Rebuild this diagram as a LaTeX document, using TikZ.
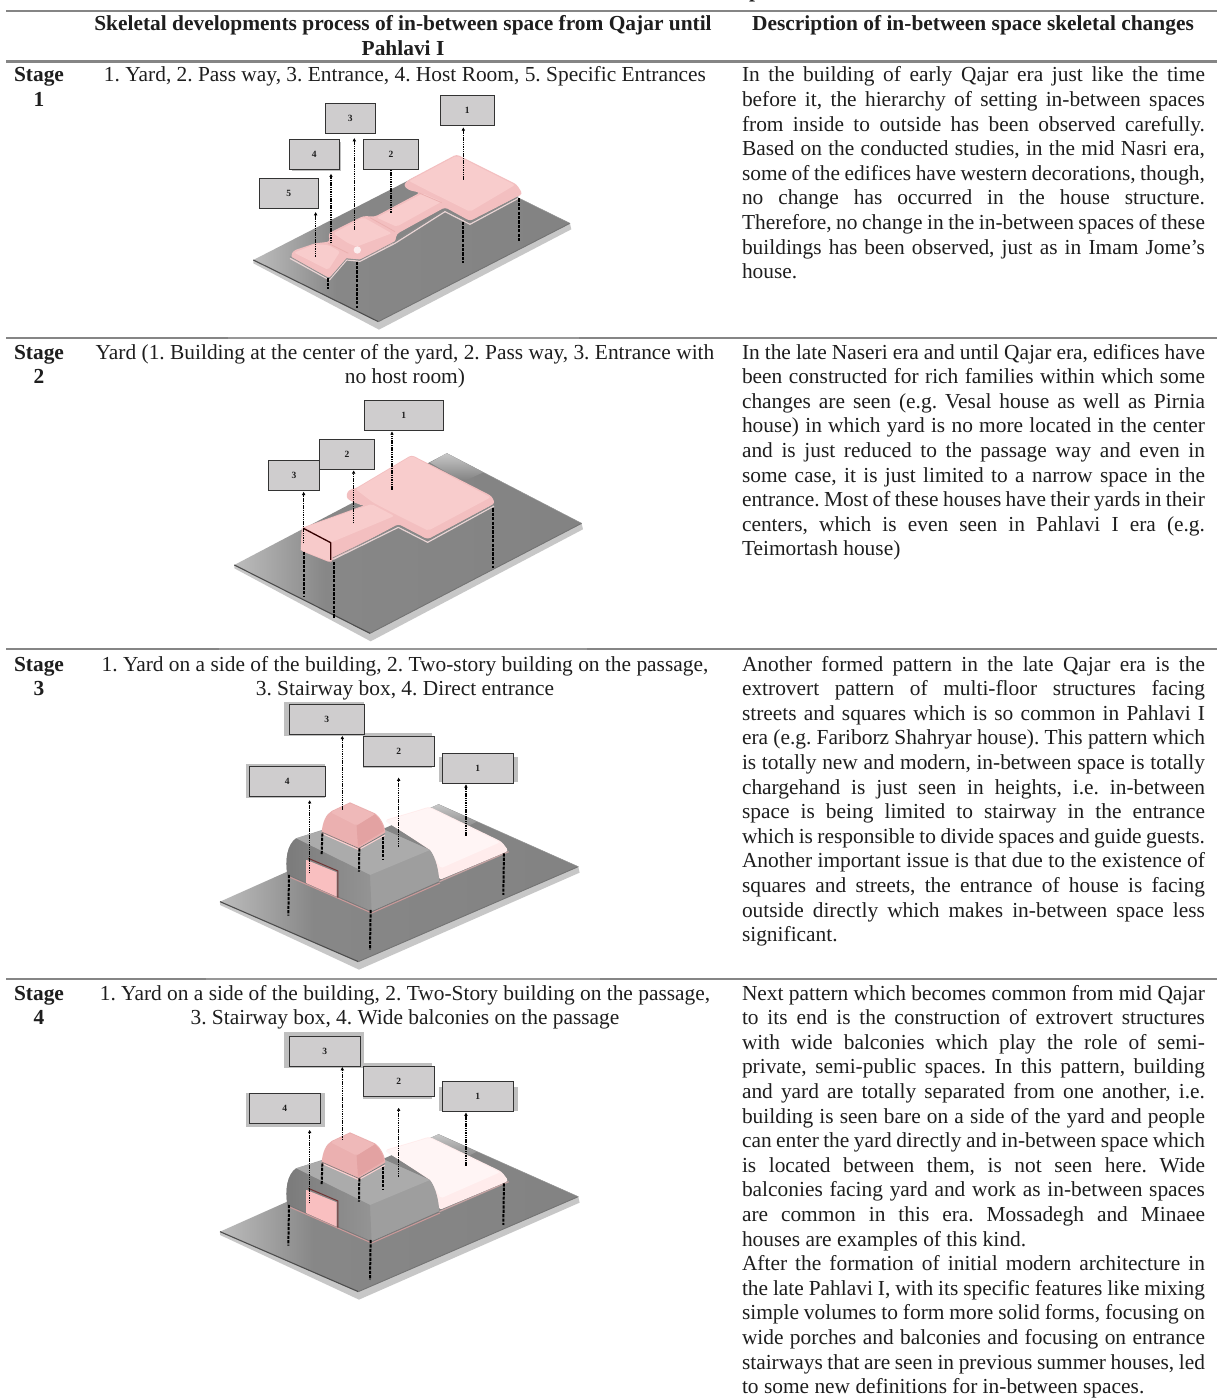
\documentclass[tikz,border=0pt]{standalone}
\usepackage{fontspec}
\setmainfont{Liberation Serif}
\usetikzlibrary{arrows.meta}
\hfuzz=30pt
\hbadness=10000
\frenchspacing
\definecolor{txt}{HTML}{1E1E1E}
\definecolor{rulec}{HTML}{858585}
\definecolor{pinkbase}{HTML}{F3BFC0}
\definecolor{pinktop}{HTML}{F8CCCC}
\definecolor{pinkdark}{HTML}{EBB0B0}
\definecolor{domeright}{HTML}{E3A2A2}
\definecolor{dometop}{HTML}{EFB9B9}
\definecolor{doorc}{HTML}{F9BFC0}
\definecolor{rimc}{HTML}{E9D4D4}
\definecolor{boxfill}{HTML}{CFCDCE}
\definecolor{haloc}{HTML}{BFBFBF}
\pgfdeclarehorizontalshading{plateS}{100bp}{color(0bp)=(black!26); color(25bp)=(black!26); color(38bp)=(black!47); color(100bp)=(black!50)}
\tikzset{
  cell/.style={anchor=base west,inner sep=0pt,outer sep=0pt,text=txt,font=\fontsize{21.4}{24.6}\selectfont},
  ccell/.style={anchor=base,inner sep=0pt,outer sep=0pt,text=txt,font=\fontsize{21.4}{24.6}\selectfont},
  rulethick/.style={draw=rulec,line width=2.1pt},
  rulethin/.style={draw=rulec!85,line width=1.2pt},
  lblbox/.style={draw=black!80,line width=0.8pt,fill=boxfill,inner sep=0pt,text=txt,font=\fontsize{9.5}{11}\selectfont\bfseries},
  halo/.style={fill=haloc},
  arrowln/.style={draw=black,line width=1.3pt,dash pattern=on 1.5pt off 0.8pt,-{Latex[length=3.4pt,width=3.8pt]}},
  plainln/.style={draw=black,line width=1.3pt,dash pattern=on 1.5pt off 0.8pt},
  postln/.style={draw=black,line width=2pt,dash pattern=on 3.2pt off 1.2pt},
  rimln/.style={draw=rimc,line width=1.2pt,line join=round},
  darkrim/.style={draw=black!45,line width=0.6pt,line join=round},
  pinkface/.style={fill=pinktop,rounded corners=2pt},
  pinkbody/.style={fill=pinkbase,rounded corners=3pt},
}
\newcommand{\jl}[1]{\hbox to 463pt{\spaceskip=0.25em plus 0.5em minus 0.1em #1}}
\newcommand{\lastl}[1]{\hbox{#1}}
\newcommand{\mkbox}[6]{\node[lblbox,minimum width={(#4-#2)*0.3333pt},minimum height={(#5-#3)*0.3333pt}] (#1) at ({(#2+#4)/2},{(#3+#5)/2}) {#6};}
\newcommand{\plate}[8]{%
  \fill[black!22] (#1,#2) -- (#7,#8) -- (#5,#6) -- (#5+4,#6+18) -- (#7+2,#8+24) -- (#1,#2+10) -- cycle;
  \path[shading=plateS] (#1,#2) -- (#3,#4) -- (#5,#6) -- (#7,#8) -- cycle;
  \draw[black!70,line width=1.1pt] (#1,#2) -- (#7,#8);
  \draw[black!55,line width=0.9pt] (#7,#8) -- (#5,#6);
  \draw[black!42,line width=0.5pt] (#3,#4) -- (#5,#6);
}
\newcommand{\housebody}{%
  \plate{60}{620}{715}{328}{1135}{515}{475}{800}
  \path[top color=black!22,bottom color=black!50] (665,352) -- (715,328) -- (830,380) -- (775,410) -- cycle;
  % pale room
  \fill[fill=pink!30!white,rounded corners=3pt] (555,375) -- (640,350) -- (688,335) -- (905,440) -- (926,468) -- (718,555) -- (700,480) -- (690,465) -- cycle;
  \fill[fill=red!4!white,rounded corners=2pt] (555,378) -- (688,338) -- (900,442) -- (722,520) -- (690,462) -- cycle;
  \draw[rimln,draw=pink!70!black!75] (718,560) -- (926,470);
  % grey volume
  \fill[black!38] (262,540) .. controls (255,490) and (262,450) .. (288,430) -- (372,403) -- (555,405) -- (690,465) .. controls (708,490) and (716,525) .. (718,560) -- (515,650) -- cycle;
  \fill[black!33] (288,430) -- (372,405) -- (555,405) -- (690,465) -- (510,540) -- cycle;
  \path[left color=black!52,right color=black!42] (262,540) .. controls (255,490) and (262,450) .. (288,430) -- (510,540) -- (515,650) -- cycle;
  \draw[draw=pink!80!black,line width=1pt,line join=round] (264,544) -- (515,654) -- (720,564);
  \draw[black!55,line width=0.5pt,line join=round] (264,540) -- (515,650) -- (718,560);
  % stairway box
  \fill[fill=pinkdark] (365,412) .. controls (368,380) and (378,358) .. (395,348) -- (450,322) -- (525,355) .. controls (545,370) and (555,395) .. (556,412) -- (475,462) -- cycle;
  \fill[fill=dometop,rounded corners=2pt] (392,352) -- (450,325) -- (525,358) -- (470,392) -- cycle;
  \fill[fill=domeright] (470,392) -- (525,358) .. controls (540,372) and (550,390) .. (552,408) -- (474,455) -- cycle;
  \draw[draw=pink!70!white,line width=1pt,line join=round] (365,415) -- (476,464) -- (555,420);
  \draw[black!55,line width=0.5pt,line join=round] (365,411) -- (476,460) -- (555,416);
  % door
  \fill[fill=doorc] (320,495) -- (410,532) -- (410,605) -- (320,565) -- cycle;
  \draw[black!70!red!80!white,line width=1pt,line join=round] (325,490) -- (414,528) -- (414,608);
  \draw[draw=pink,line width=1pt] (320,495) -- (320,565);
  % posts
  \coordinate (hpa) at (267,540); \coordinate (hpb) at (265,662);
  \coordinate (hpc) at (512,645); \coordinate (hpd) at (510,765);
  \coordinate (hpe) at (912,475); \coordinate (hpf) at (910,600);
  \coordinate (hpg) at (367,415); \coordinate (hph) at (365,480);
  \coordinate (hpi) at (478,460); \coordinate (hpj) at (477,530);
  \coordinate (hpk) at (548,425); \coordinate (hpl) at (548,495);
  \draw[postln] (hpa) -- (hpb); \draw[postln] (hpc) -- (hpd); \draw[postln] (hpe) -- (hpf);
  \draw[postln] (hpg) -- (hph); \draw[postln] (hpi) -- (hpj); \draw[postln] (hpk) -- (hpl);
}
\begin{document}
\begin{tikzpicture}[x=1pt,y=-1pt]
\useasboundingbox (0,0) rectangle (1217,1399);
\fill[white] (0,0) rectangle (1217,1399);
% ---- rules
\coordinate (ra) at (6,11);\coordinate (rb) at (1217,11);
\draw[rulethick] (ra) -- (rb);
\coordinate (rc) at (6,61.5);\coordinate (rd) at (1217,61.5);
\draw[rulethick] (rc) -- (rd);
\draw[rulethin] (6,338) -- (1217,338);
\draw[rulethick] (6,338) -- (228,338); \draw[rulethick] (579,338) -- (1217,338);
\draw[rulethin] (6,649) -- (1217,649);
\draw[rulethick] (6,649) -- (219,649); \draw[rulethick] (587,649) -- (1217,649);
\draw[rulethin] (6,979) -- (1217,979);
\draw[rulethick] (6,979) -- (206,979); \draw[rulethick] (600,979) -- (1217,979);
% ---- top fragment and header
\node[ccell,font=\fontsize{21.4}{24.6}\selectfont\bfseries] (frag) at (755,-2) {p};
\node[ccell] (h1) at (403,31) {\parbox[t]{640pt}{\centering\bfseries Skeletal developments process of in-between space from Qajar until\\Pahlavi I}};
\node[ccell] (h2) at (973,31) {\bfseries Description of in-between space skeletal changes};
% ---- stage labels
\node[ccell] (st1) at (39,82) {\parbox[t]{70pt}{\centering\bfseries Stage\\1}};
\node[ccell] (st2) at (39,359) {\parbox[t]{70pt}{\centering\bfseries Stage\\2}};
\node[ccell] (st3) at (39,671) {\parbox[t]{70pt}{\centering\bfseries Stage\\3}};
\node[ccell] (st4) at (39,1000) {\parbox[t]{70pt}{\centering\bfseries Stage\\4}};
% ---- middle captions
\node[ccell] (c1) at (405,82) {1. Yard, 2. Pass way, 3. Entrance, 4. Host Room, 5. Specific Entrances};
\node[ccell] (c2) at (405,359) {\parbox[t]{640pt}{\centering Yard (1. Building at the center of the yard, 2. Pass way, 3. Entrance with\\no host room)}};
\node[ccell] (c3) at (405,671) {\parbox[t]{640pt}{\centering 1. Yard on a side of the building, 2. Two-story building on the passage,\\3. Stairway box, 4. Direct entrance}};
\node[ccell] (c4) at (405,1000) {\parbox[t]{640pt}{\centering 1. Yard on a side of the building, 2. Two-Story building on the passage,\\3. Stairway box, 4. Wide balconies on the passage}};
% ---- right column
\node[cell] (d1) at (742,82) {\parbox[t]{463pt}{%
\jl{In the building of early Qajar era just like the time}
\jl{before it, the hierarchy of setting in-between spaces}
\jl{from inside to outside has been observed carefully.}
\jl{Based on the conducted studies, in the mid Nasri era,}
\jl{some of the edifices have western decorations, though,}
\jl{no change has occurred in the house structure.}
\jl{Therefore, no change in the in-between spaces of these}
\jl{buildings has been observed, just as in Imam Jome’s}
\lastl{house.}}};
\node[cell] (d2) at (742,359) {\parbox[t]{463pt}{%
\jl{In the late Naseri era and until Qajar era, edifices have}
\jl{been constructed for rich families within which some}
\jl{changes are seen (e.g. Vesal house as well as Pirnia}
\jl{house) in which yard is no more located in the center}
\jl{and is just reduced to the passage way and even in}
\jl{some case, it is just limited to a narrow space in the}
\jl{entrance. Most of these houses have their yards in their}
\jl{centers, which is even seen in Pahlavi I era (e.g.}
\lastl{Teimortash house)}}};
\node[cell] (d3) at (742,671) {\parbox[t]{463pt}{%
\jl{Another formed pattern in the late Qajar era is the}
\jl{extrovert pattern of multi-floor structures facing}
\jl{streets and squares which is so common in Pahlavi I}
\jl{era (e.g. Fariborz Shahryar house). This pattern which}
\jl{is totally new and modern, in-between space is totally}
\jl{chargehand is just seen in heights, i.e. in-between}
\jl{space is being limited to stairway in the entrance}
\jl{which is responsible to divide spaces and guide guests.}
\jl{Another important issue is that due to the existence of}
\jl{squares and streets, the entrance of house is facing}
\jl{outside directly which makes in-between space less}
\lastl{significant.}}};
\node[cell] (d4) at (742,1000) {\parbox[t]{463pt}{%
\jl{Next pattern which becomes common from mid Qajar}
\jl{to its end is the construction of extrovert structures}
\jl{with wide balconies which play the role of semi-}
\jl{private, semi-public spaces. In this pattern, building}
\jl{and yard are totally separated from one another, i.e.}
\jl{building is seen bare on a side of the yard and people}
\jl{can enter the yard directly and in-between space which}
\jl{is located between them, is not seen here. Wide}
\jl{balconies facing yard and work as in-between spaces}
\jl{are common in this era. Mossadegh and Minaee}
\lastl{houses are examples of this kind.}
\jl{After the formation of initial modern architecture in}
\jl{the late Pahlavi I, with its specific features like mixing}
\jl{simple volumes to form more solid forms, focusing on}
\jl{wide porches and balconies and focusing on entrance}
\jl{stairways that are seen in previous summer houses, led}
\lastl{to some new definitions for in-between spaces.}}};
% ================ Stage 1
\begin{scope}[shift={(200,90)},x=0.3333pt,y=-0.3333pt]
\plate{160}{510}{735}{215}{1110}{400}{535}{695}
\fill[pinkbody] (272,498) -- (280,482) -- (345,460) -- (390,455) -- (385,430) -- (490,378) -- (525,380) -- (660,308) -- (625,300) -- (610,285) -- (625,270) -- (770,193) -- (950,283) -- (968,312) -- (810,393) -- (735,352) -- (590,432) -- (585,458) -- (480,510) -- (460,508) -- (440,505) -- (388,565) -- (280,508) -- cycle;
\fill[pinkface] (627,273) -- (770,197) -- (945,285) -- (810,365) -- (740,330) -- (695,308) -- cycle;
\fill[pinkface] (530,383) -- (668,310) -- (725,335) -- (590,410) -- cycle;
\fill[pinkface] (400,430) -- (490,382) -- (575,430) -- (470,470) -- (445,460) -- cycle;
\fill[pinkface] (282,488) -- (345,463) -- (385,465) -- (420,485) -- (385,540) -- cycle;
\draw[pinkdark,line width=0.8pt] (510,383) -- (585,425);
\draw[pinkdark,line width=0.8pt] (385,460) -- (445,490);
\draw[pinkdark,line width=0.8pt] (655,308) -- (725,338);
\fill[white,opacity=.75] (472,480) circle (11);
\draw[rimln] (955,325) -- (810,403) -- (735,365) -- (585,460) -- (480,514) -- (440,510) -- (388,570) -- (270,505);
\draw[darkrim] (955,320) -- (810,398) -- (735,360) -- (585,455) -- (480,510) -- (440,506) -- (388,566) -- (270,500);
\mkbox{s1b1}{721}{16}{882}{107}{1}
\mkbox{s1b3}{375}{40}{527}{130}{3}
\fill[haloc] (277,157) rectangle (424,242);
\mkbox{s1b4}{267}{147}{419}{237}{4}
\mkbox{s1b2}{490}{148}{656}{239}{2}
\mkbox{s1b5}{177}{265}{355}{355}{5}
\coordinate (s1f1) at (790,270);
\coordinate (s1f2) at (573,368);
\coordinate (s1f3) at (463,420);
\coordinate (s1f4) at (393,460);
\coordinate (s1f5) at (347,500);
\draw[arrowln,shorten >=1.2pt] (s1f1) -- (s1f1 |- s1b1.south);
\draw[plainln] (s1f2) -- (s1f2 |- s1b2.south);
\draw[arrowln,shorten >=4.2pt] (s1f3) -- (s1f3 |- s1b3.south);
\draw[arrowln,shorten >=4.2pt] (s1f4) -- (s1f4 |- s1b4.south);
\draw[arrowln,shorten >=3.2pt] (s1f5) -- (s1f5 |- s1b5.south);
\coordinate (s1p1) at (383,565);\coordinate (s1q1) at (383,597);
\coordinate (s1p2) at (470,515);\coordinate (s1q2) at (470,655);
\coordinate (s1p3) at (788,395);\coordinate (s1q3) at (788,520);
\coordinate (s1p4) at (956,325);\coordinate (s1q4) at (956,455);
\draw[postln] (s1p1) -- (s1q1); \draw[postln] (s1p2) -- (s1q2);
\draw[postln] (s1p3) -- (s1q3); \draw[postln] (s1p4) -- (s1q4);
\end{scope}
% ================ Stage 2
\begin{scope}[shift={(200,410)},x=0.3333pt,y=-0.3333pt]
\plate{103}{465}{740}{130}{1145}{340}{510}{670}
\path[top color=black!22,bottom color=black!50] (690,158) -- (740,130) -- (850,187) -- (790,215) -- cycle;
\fill[pinkbody] (438,262) -- (445,240) -- (467,235) -- (635,135) -- (875,258) -- (885,280) -- (683,388) -- (595,342) -- (590,345) -- (395,450) -- (392,458) -- (302,422) -- (305,355) -- (310,352) -- (515,278) -- (490,288) -- (450,272) -- cycle;
\fill[pinkface] (467,238) -- (635,138) -- (872,262) -- (685,362) -- (585,312) -- (520,278) -- cycle;
\fill[pinkface] (315,352) -- (515,282) -- (583,318) -- (392,398) -- cycle;
\fill[pinktop!85!pinkbase] (310,355) -- (392,398) -- (392,455) -- (302,420) -- cycle;
\draw[rimln] (882,288) -- (683,397) -- (595,352) -- (400,448);
\draw[darkrim] (882,284) -- (683,392) -- (595,347) -- (398,444);
\draw[draw=black!60!red!50!black,line width=1.3pt,line join=round] (310,355) -- (392,398) -- (392,450);
\mkbox{s2b1}{492}{-29}{730}{61}{1}
\mkbox{s2b2}{358}{88}{524}{178}{2}
\mkbox{s2b3}{206}{152}{358}{242}{3}
\coordinate (s2f1) at (576,240);
\coordinate (s2f2) at (461,340);
\coordinate (s2f3) at (311,400);
\draw[arrowln,shorten >=0.6pt] (s2f1) -- (s2f1 |- s2b1.south);
\draw[arrowln,shorten >=0.6pt] (s2f2) -- (s2f2 |- s2b2.south);
\draw[arrowln,shorten >=0.6pt] (s2f3) -- (s2f3 |- s2b3.south);
\coordinate (s2p1) at (313,425);\coordinate (s2q1) at (313,560);
\coordinate (s2p2) at (402,455);\coordinate (s2q2) at (402,625);
\coordinate (s2p3) at (878,295);\coordinate (s2q3) at (878,475);
\draw[postln] (s2p1) -- (s2q1); \draw[postln] (s2p2) -- (s2q2); \draw[postln] (s2p3) -- (s2q3);
\end{scope}
% ================ Stage 3
\begin{scope}[shift={(200,695)},x=0.3333pt,y=-0.3333pt]
\fill[halo] (253,20) rectangle (492,123);
\fill[halo] (490,113) rectangle (695,218);
\fill[halo] (716,185) rectangle (955,260);
\fill[halo] (137,207) rectangle (375,310);
\mkbox{s3b3}{268}{28}{492}{118}{3}
\mkbox{s3b2}{490}{123}{703}{213}{2}
\mkbox{s3b1}{727}{175}{940}{265}{1}
\mkbox{s3b4}{148}{213}{375}{305}{4}
\housebody
\coordinate (s3f1) at (798,423);
\coordinate (s3f2) at (596,455);
\coordinate (s3f3) at (427,345);
\coordinate (s3f4) at (329,535);
\draw[arrowln,shorten >=0.5pt] (s3f1) -- (s3f1 |- s3b1.south);
\draw[arrowln,shorten >=11pt] (s3f2) -- (s3f2 |- s3b2.south);
\draw[arrowln,shorten >=1pt] (s3f3) -- (s3f3 |- s3b3.south);
\draw[arrowln,shorten >=3pt] (s3f4) -- (s3f4 |- s3b4.south);
\end{scope}
% ================ Stage 4
\begin{scope}[shift={(200,1000)},x=0.3333pt,y=-0.3333pt]
\fill[halo] (253,95) rectangle (492,205);
\fill[halo] (490,190) rectangle (695,297);
\fill[halo] (716,260) rectangle (955,333);
\fill[halo] (137,280) rectangle (375,382);
\mkbox{s4b3}{268}{108}{480}{198}{3}
\mkbox{s4b2}{490}{198}{702}{290}{2}
\mkbox{s4b1}{727}{243}{940}{333}{1}
\mkbox{s4b4}{148}{280}{361}{370}{4}
\end{scope}
\begin{scope}[shift={(200,1025)},x=0.3333pt,y=-0.3333pt]
\housebody
\coordinate (s4f1) at (798,423);
\coordinate (s4f2) at (596,455);
\coordinate (s4f3) at (427,345);
\coordinate (s4f4) at (329,535);
\draw[arrowln,shorten >=1pt] (s4f1) -- (s4f1 |- s4b1.south);
\draw[arrowln,shorten >=10.5pt] (s4f2) -- (s4f2 |- s4b2.south);
\draw[arrowln,shorten >=0.5pt] (s4f3) -- (s4f3 |- s4b3.south);
\draw[arrowln,shorten >=6pt] (s4f4) -- (s4f4 |- s4b4.south);
\end{scope}
\end{tikzpicture}
\end{document}
